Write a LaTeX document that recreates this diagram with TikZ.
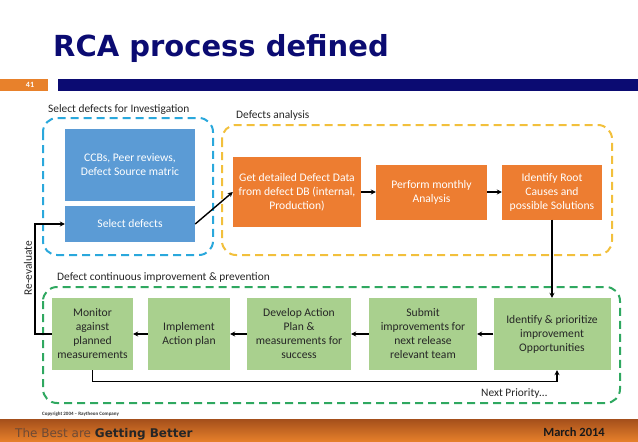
\documentclass[tikz,border=0pt]{standalone}
\usepackage{fontspec}
\setmainfont{Carlito}
\newfontfamily\headfont{DejaVu Sans}
\usetikzlibrary{arrows.meta}
\definecolor{navy}{HTML}{0B0B72}
\definecolor{slideorange}{HTML}{E8812B}
\definecolor{footdark}{HTML}{A44F1B}
\definecolor{mottogray}{HTML}{6E4A35}
\definecolor{boxblue}{HTML}{5B9BD5}
\definecolor{boxorange}{HTML}{ED7D31}
\definecolor{boxgreen}{HTML}{A9D08E}
\definecolor{dashblue}{HTML}{2AA8DC}
\definecolor{dashyellow}{HTML}{F2C03C}
\definecolor{dashgreen}{HTML}{2FA860}

\begin{document}
\begin{tikzpicture}[x=1pt, y=-1pt,
		box/.style={rectangle, inner sep=0pt, align=center, font=\fontsize{11.6}{14}\selectfont},
		bluebox/.style={box, fill=boxblue, text=white},
		orangebox/.style={box, fill=boxorange, text=white},
		greenbox/.style={box, fill=boxgreen, text=black!85, minimum height=72pt},
		group/.style={rounded corners=14pt, line width=2pt, dash pattern=on 8pt off 5pt},
		grouplabel/.style={anchor=west, inner sep=0pt, font=\fontsize{11.4}{12}\selectfont, text=black!85},
		arr/.style={-{Stealth[length=5pt, width=5pt]}, line width=1.4pt}]
			\useasboundingbox (0,0) rectangle (638,442);
			% header
			\node[anchor=base west, inner sep=0pt, text=navy, font=\headfont\bfseries\fontsize{29}{31}\selectfont] (title) at (53,56) {RCA process defined};
			\fill[slideorange] (0,79) rectangle (48,91);
			\node[text=white, font=\bfseries\fontsize{8}{9}\selectfont] (slidenum) at (30,85) {41};
			\fill[navy] (58,79) rectangle (638,91);
			% footer
			\shade[top color=footdark, bottom color=slideorange] (0,419) rectangle (638,442);
			\node[anchor=base west, inner sep=0pt, font=\headfont\fontsize{12}{14}\selectfont] (motto) at (15,437) {\color{mottogray}The Best are \color{black!85}\bfseries Getting Better};
			\node[anchor=base east, inner sep=0pt, text=black!90, font=\bfseries\fontsize{12.5}{14}\selectfont] (date) at (605,436) {March 2014};
			\node[anchor=west, inner sep=0pt, text=black!80, font=\bfseries\fontsize{5}{6}\selectfont] (copyright) at (42,414) {Copyright 2004 -- Raytheon Company};
			% groups
			\draw[group, dashblue] (43,118) rectangle (213,255);
			\draw[group, dashyellow] (222,125) rectangle (612,255);
			\draw[group, dashgreen] (43,287) rectangle (620,403);
			\node[grouplabel] (selectlabel) at (48,110) {Select defects for Investigation};
			\node[grouplabel] (analysislabel) at (236,115) {Defects analysis};
			\node[grouplabel] (improvelabel) at (57,277) {Defect continuous improvement \& prevention};
			% select defects
			\node[bluebox, minimum width=130pt, minimum height=72pt] (ccb) at (130,165) {CCBs, Peer reviews,\\Defect Source matric};
			\node[bluebox, minimum width=130pt, minimum height=36pt] (select) at (130,224) {Select defects};
			% analysis
			\node[orangebox, minimum width=128pt, minimum height=70pt] (getdata) at (297,192) {Get detailed Defect Data\\from defect DB (internal,\\Production)};
			\node[orangebox, minimum width=111pt, minimum height=55pt] (monthly) at (431.5,192) {Perform monthly\\Analysis};
			\node[orangebox, minimum width=100pt, minimum height=55pt] (rootcause) at (552,192) {Identify Root\\Causes and\\possible Solutions};
			% improvement
			\node[greenbox, minimum width=81pt] (monitor) at (92.5,334) {Monitor\\against\\planned\\measurements};
			\node[greenbox, minimum width=82pt] (implement) at (189,334) {Implement\\Action plan};
			\node[greenbox, minimum width=104pt] (develop) at (299,334) {Develop Action\\Plan \&\\measurements for\\success};
			\node[greenbox, minimum width=108pt] (submit) at (423,334) {Submit\\improvements for\\next release\\relevant team};
			\node[greenbox, minimum width=117pt] (prioritize) at (552,334) {Identify \& prioritize\\improvement\\Opportunities};
			% connectors
			\draw[arr] (select.east) -- (getdata.west);
			\draw[arr] (getdata) -- (monthly);
			\draw[arr] (monthly) -- (rootcause);
			\draw[arr] (rootcause) -- (prioritize);
			\foreach \a/\b in {prioritize/submit, submit/develop, develop/implement, implement/monitor}
				\draw[arr] (\a) -- (\b);
			\draw[arr] (monitor.west) -- ++(-17,0) |- (select.west);
			\node[rotate=90, inner sep=0pt, font=\fontsize{11.4}{12}\selectfont, text=black!85] (reevaluate) at (28,268) {Re-evaluate};
			\draw[arr] (monitor.south) -- ++(0,11) -| ([xshift=5pt]prioritize.south);
			\node[grouplabel, font=\fontsize{11.4}{12}\selectfont] (nextlabel) at (481,393) {Next Priority…};
		\end{tikzpicture}
\end{document}
